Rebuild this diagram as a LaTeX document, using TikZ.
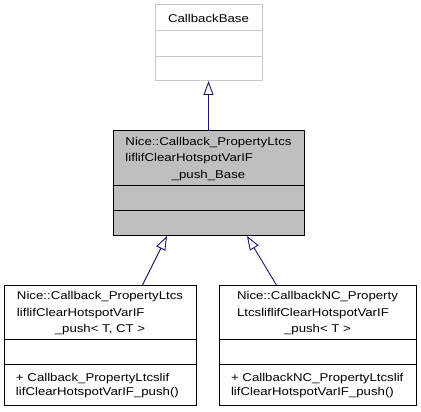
\documentclass[tikz,border=0pt]{standalone}
\usepackage{fontspec}
\setmainfont[FakeStretch=1.17]{Liberation Sans}
\usetikzlibrary{positioning,arrows.meta}
\definecolor{edgeBlue}{RGB}{25,25,112}
\definecolor{classGray}{RGB}{191,191,191}
\definecolor{frameGray}{RGB}{200,200,200}
\tikzset{
  part/.style={draw,rectangle,fill=white,inner sep=0pt,outer sep=0pt,line width=1pt,
    font=\fontsize{11.3}{14}\selectfont,align=center},
  inherit/.style={draw=edgeBlue,line width=0.9pt,-{Triangle[open,length=14pt,width=10pt]}},
}
\renewcommand{\arraystretch}{1.17}
\newcommand{\clsname}[2]{\begin{tabular}{@{}l@{}}#1\\\multicolumn{1}{@{}c@{}}{#2}\end{tabular}}

\begin{document}
\begin{tikzpicture}[x=1pt,y=1pt]
  \useasboundingbox (0,0) rectangle (421,412);
  % base class
  \node[part,draw=frameGray,minimum width=107,minimum height=26] (baseName) at (208.5,394) {CallbackBase};
  \node[part,draw=frameGray,minimum width=107,minimum height=26,below=0pt of baseName] (baseAttr) {};
  \node[part,draw=frameGray,minimum width=107,minimum height=24,below=0pt of baseAttr] (baseMeth) {};
  % middle class
  \node[part,fill=classGray,minimum width=191,minimum height=55] (midName) at (208.5,253.5)
    {\clsname{Nice::Callback\_PropertyLtcs\\liflifClearHotspotVarIF}{\_push\_Base}};
  \node[part,fill=classGray,minimum width=191,minimum height=25,below=0pt of midName] (midAttr) {};
  \node[part,fill=classGray,minimum width=191,minimum height=25,below=0pt of midAttr] (midMeth) {};
  % derived classes
  \node[part,minimum width=192,minimum height=54] (leftName) at (100,99)
    {\clsname{Nice::Callback\_PropertyLtcs\\liflifClearHotspotVarIF}{\_push< T, CT >}};
  \node[part,minimum width=192,minimum height=25,below=0pt of leftName] (leftAttr) {};
  \node[part,minimum width=192,minimum height=41,text width=168,align=left,below=0pt of leftAttr] (leftMeth)
    {+ Callback\_PropertyLtcslif\\lifClearHotspotVarIF\_push()};
  \node[part,minimum width=197,minimum height=54] (rightName) at (317.5,99)
    {\clsname{Nice::CallbackNC\_Property\\LtcsliflifClearHotspotVarIF}{\_push< T >}};
  \node[part,minimum width=197,minimum height=25,below=0pt of rightName] (rightAttr) {};
  \node[part,minimum width=197,minimum height=41,text width=173,align=left,below=0pt of rightAttr] (rightMeth)
    {+ CallbackNC\_PropertyLtcslif\\lifClearHotspotVarIF\_push()};
  % inheritance
  \draw[inherit] (midName.north) -- (baseMeth.south);
  \draw[inherit] ([xshift=42pt]leftName.north) -- ([xshift=-41.5pt]midMeth.south);
  \draw[inherit] ([xshift=-40.5pt]rightName.north) -- ([xshift=38.5pt]midMeth.south);
\end{tikzpicture}
\end{document}
